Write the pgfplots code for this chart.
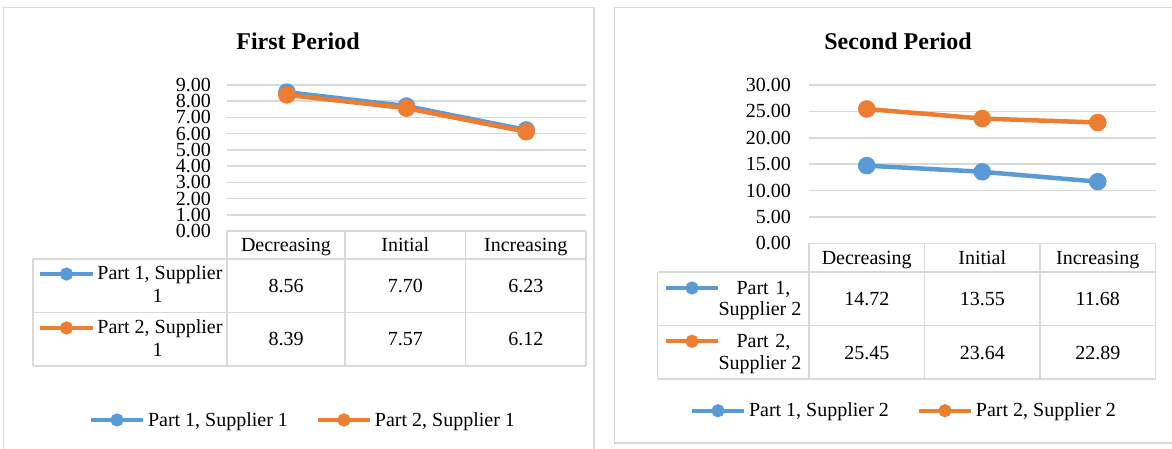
\documentclass[border=0pt]{standalone}
\usepackage{fontspec}
\setmainfont{Liberation Serif}
\usepackage{pgfplots}
\pgfplotsset{compat=1.18}

\definecolor{sBlue}{HTML}{5B9BD5}
\definecolor{sOrange}{HTML}{ED7D31}
\definecolor{rule}{HTML}{D9D9D9}

\newcommand\txt{\fontsize{20}{23}\selectfont}
\newcommand\ttl{\fontsize{24}{28}\selectfont\bfseries}

\pgfplotsset{
  panel/.style={
    scale only axis, anchor=south west, clip=false,
    xmin=0, xmax=3, xtick=\empty, ymin=0,
    axis line style={draw=none}, major tick length=0pt,
    ymajorgrids, major grid style={rule, line width=1.5pt},
    scaled y ticks=false,
    yticklabel style={font=\txt, anchor=east, inner sep=0pt,
      /pgf/number format/fixed, /pgf/number format/fixed zerofill,
      /pgf/number format/precision=2, /pgf/number format/assume math mode=true},
    legend image code/.code={
      \draw[mark repeat=2, mark phase=2, line width=4pt, mark size=4.5pt]
        plot coordinates {(0pt,0pt) (26pt,0pt) (52pt,0pt)};},
  },
  bottom legend/.style={
    legend columns=2,
    legend style={draw=none, fill=none, inner sep=0pt, outer sep=0pt,
      anchor=west, font=\txt, nodes={inner sep=0pt}, column sep=3pt,
      /tikz/every even column/.append style={column sep=28pt}},
  },
  key legend/.style={
    hide axis, legend columns=1,
    legend style={draw=none, fill=none, inner sep=0pt, outer sep=0pt,
      anchor=north west, font=\txt, row sep=#1,
      nodes={inner sep=0pt, text height=17pt, text depth=5pt, align=center}},
  },
  series/.style={color=#1, line width=4.5pt, mark=*, mark size=6.5pt,
    mark options={solid, fill=#1, draw=#1}},
}

\begin{document}
\begin{tikzpicture}
\useasboundingbox (0pt,0pt) rectangle (1172pt,449pt);
\fill[white] (0pt,0pt) rectangle (1172pt,449pt);

% chart frames
\draw[rule, line width=1.5pt] (3.5pt,-10pt) rectangle (594pt,441.5pt);
\draw[rule, line width=1.5pt] (614.7pt,6pt) rectangle (1190pt,441.5pt);

% ---------------- First period ----------------
\node[anchor=base, font=\ttl] at (298pt,399pt) {First Period};

\begin{axis}[panel, bottom legend, at={(227pt,218pt)}, width=359pt, height=146pt,
  ymax=9, ytick={0,1,...,9}, yticklabel style={xshift=-16pt},
  legend style={at={(axis description cs:-0.3844,-1.2945)}}]
\addplot[series=sBlue] coordinates {(0.5,8.56) (1.5,7.70) (2.5,6.23)};
\addlegendentry{Part 1, Supplier 1}
\addplot[series=sOrange] coordinates {(0.5,8.39) (1.5,7.57) (2.5,6.12)};
\addlegendentry{Part 2, Supplier 1}
\end{axis}

% keys of the data table rows
\begin{axis}[panel, key legend=32pt, at={(227pt,218pt)}, width=359pt, height=146pt,
  ymax=9, legend style={at={(axis description cs:-0.52507,-0.21918)},
  column sep=3pt}]
\addlegendimage{series=sBlue}
\addlegendentry{Part 1, Supplier}
\addlegendimage{series=sOrange}
\addlegendentry{Part 2, Supplier}
\end{axis}

% data table
\begin{scope}[rule, line width=1.5pt]
\draw (227pt,218pt) -- (586pt,218pt);
\draw (33pt,190pt) -- (586pt,190pt);
\draw (33pt,136.3pt) -- (586pt,136.3pt);
\draw (33pt,83pt) -- (586pt,83pt);
\draw (33pt,190pt) -- (33pt,83pt);
\foreach \x in {227,345,465.5,586} \draw (\x pt,218pt) -- (\x pt,83pt);
\end{scope}
\begin{scope}[every node/.style={anchor=base, font=\txt, inner sep=0pt}]
\node at (286pt,197pt) {Decreasing};
\node at (405.25pt,197pt) {Initial};
\node at (525.75pt,197pt) {Increasing};
\node at (286pt,156.5pt) {8.56};
\node at (405.25pt,156.5pt) {7.70};
\node at (525.75pt,156.5pt) {6.23};
\node at (286pt,103pt) {8.39};
\node at (405.25pt,103pt) {7.57};
\node at (525.75pt,103pt) {6.12};
\node at (157.5pt,146pt) {1};
\node at (157.5pt,92pt) {1};
\end{scope}

% ---------------- Second period ----------------
\node[anchor=base, font=\ttl] at (898pt,399pt) {Second Period};

\begin{axis}[panel, bottom legend, at={(809pt,205.7pt)}, width=346.5pt, height=158.3pt,
  ymax=30, ytick={0,5,...,30}, yticklabel style={xshift=-18pt},
  legend style={at={(axis description cs:-0.34343,-1.05749)}}]
\addplot[series=sBlue] coordinates {(0.5,14.72) (1.5,13.55) (2.5,11.68)};
\addlegendentry{Part 1, Supplier 2}
\addplot[series=sOrange] coordinates {(0.5,25.45) (1.5,23.64) (2.5,22.89)};
\addlegendentry{Part 2, Supplier 2}
\end{axis}

\begin{axis}[panel, key legend=31.3pt, at={(809pt,205.7pt)}, width=346.5pt, height=158.3pt,
  ymax=30, legend style={at={(axis description cs:-0.41847,-0.2129)},
  column sep=1.5pt, nodes={text width=84pt}}]
\addlegendimage{series=sBlue}
\addlegendentry{Part 1,}
\addlegendimage{series=sOrange}
\addlegendentry{Part 2,}
\end{axis}

\begin{scope}[rule, line width=1.5pt]
\draw (809pt,205.7pt) -- (1155.5pt,205.7pt);
\draw (657.6pt,177pt) -- (1155.5pt,177pt);
\draw (657.6pt,123.7pt) -- (1155.5pt,123.7pt);
\draw (657.6pt,70pt) -- (1155.5pt,70pt);
\draw (657.6pt,177pt) -- (657.6pt,70pt);
\foreach \x in {809,924.5,1040,1155.5} \draw (\x pt,205.7pt) -- (\x pt,70pt);
\end{scope}
\begin{scope}[every node/.style={anchor=base, font=\txt, inner sep=0pt}]
\node at (866.75pt,184pt) {Decreasing};
\node at (982.25pt,184pt) {Initial};
\node at (1097.75pt,184pt) {Increasing};
\node at (866.75pt,143.2pt) {14.72};
\node at (982.25pt,143.2pt) {13.55};
\node at (1097.75pt,143.2pt) {11.68};
\node at (866.75pt,89.5pt) {25.45};
\node at (982.25pt,89.5pt) {23.64};
\node at (1097.75pt,89.5pt) {22.89};
\node at (760pt,133pt) {Supplier 2};
\node at (760pt,79.7pt) {Supplier 2};
\end{scope}
\end{tikzpicture}
\end{document}
